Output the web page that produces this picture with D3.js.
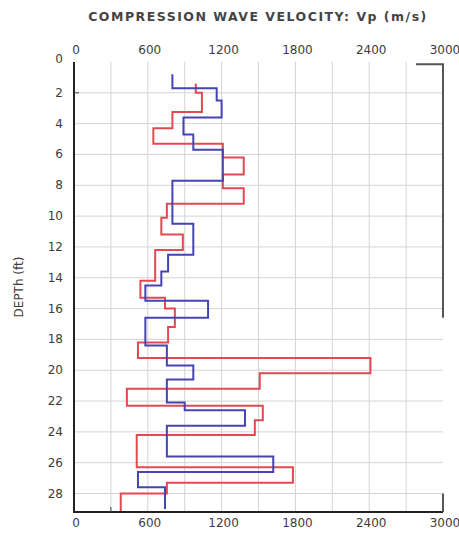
<!DOCTYPE html>
<html>
<head>
<meta charset="utf-8">
<script src="https://cdn.jsdelivr.net/npm/d3@7"></script>
<style>
  html, body { margin: 0; padding: 0; background: #fff; }
  svg { display: block; }
</style>
</head>
<body>
<svg id="chart" width="459" height="536"></svg>
<script>
// ---- data ----
const xTicks = [0, 600, 1200, 1800, 2400, 3000];
const yTicks = [0, 2, 4, 6, 8, 10, 12, 14, 16, 18, 20, 22, 24, 26, 28];

// Layer boundaries (depth, ft) and layer velocities (m/s)
const blueDepths = [0.8, 1.7, 2.5, 3.6, 4.7, 5.7, 7.7, 10.5, 12.5, 13.6, 14.5, 15.5, 16.6, 18.4, 19.7, 20.6, 22.1, 22.6, 23.6, 25.6, 26.6, 27.6, 29.0];
const blueVp     = [800, 1160, 1200, 890, 970, 1210, 800, 970, 765, 710, 580, 1090, 580, 755, 970, 755, 900, 1390, 755, 1620, 520, 740];

const redDepths = [1.4, 2.0, 3.25, 4.3, 5.3, 6.2, 7.3, 8.2, 9.2, 10.1, 11.2, 12.2, 14.2, 15.3, 16.0, 17.2, 18.2, 19.2, 20.2, 21.2, 22.3, 23.25, 24.2, 26.3, 27.3, 28.0, 29.2];
const redVp     = [990, 1040, 800, 645, 1210, 1380, 1210, 1380, 755, 710, 885, 660, 540, 740, 820, 765, 520, 2410, 1510, 430, 1535, 1470, 510, 1780, 755, 380];

// right-hand depth markers at Vp = 3000
const markerTop = [0.15, 16.6];
const markerBottom = [28.0, 29.2];

// ---- layout ----
const svg = d3.select("#chart");
const x = d3.scaleLinear().domain([0, 3000]).range([74, 443]);
const y = d3.scaleLinear().domain([0, 29.2]).range([62, 512]);

const textColor = "#3c3c3c";
const font = "DejaVu Sans, Verdana, sans-serif";

// grid
const vGrid = d3.range(300, 3000, 300);
svg.append("g").selectAll("line").data(vGrid).join("line")
  .attr("x1", d => x(d)).attr("x2", d => x(d))
  .attr("y1", y(0)).attr("y2", y(29.2))
  .attr("stroke", "#d4d4d4").attr("stroke-width", 1);
svg.append("g").selectAll("line").data(yTicks.filter(d => d > 0)).join("line")
  .attr("x1", x(0)).attr("x2", x(3000))
  .attr("y1", d => y(d)).attr("y2", d => y(d))
  .attr("stroke", "#d4d4d4").attr("stroke-width", 1);

// profile builder
function profile(depths, vp) {
  const pts = [];
  vp.forEach((v, i) => { pts.push([v, depths[i]]); pts.push([v, depths[i + 1]]); });
  return pts;
}
const line = d3.line().x(d => x(d[0])).y(d => y(d[1]));

svg.append("path").datum(profile(redDepths, redVp))
  .attr("d", line).attr("fill", "none")
  .attr("stroke", "#e24a52").attr("stroke-width", 2).attr("stroke-linejoin", "miter");
svg.append("path").datum(profile(blueDepths, blueVp))
  .attr("d", line).attr("fill", "none")
  .attr("stroke", "#4444b2").attr("stroke-width", 2).attr("stroke-linejoin", "miter");

// axes lines
svg.append("line").attr("x1", x(0)).attr("x2", x(0)).attr("y1", y(0)).attr("y2", y(29.2) + 1)
  .attr("stroke", "#222").attr("stroke-width", 2);
svg.append("line").attr("x1", x(0) - 1).attr("x2", x(3000)).attr("y1", y(29.2)).attr("y2", y(29.2))
  .attr("stroke", "#222").attr("stroke-width", 2);
// small ticks
svg.append("line").attr("x1", x(0)).attr("x2", x(0) + 5).attr("y1", y(2)).attr("y2", y(2))
  .attr("stroke", "#444").attr("stroke-width", 1);
svg.append("line").attr("x1", x(300)).attr("x2", x(300)).attr("y1", y(29.2)).attr("y2", y(29.2) - 5)
  .attr("stroke", "#444").attr("stroke-width", 1);

// right markers
svg.append("path")
  .attr("d", `M${x(2780)},${y(markerTop[0])}H${x(3000)}V${y(markerTop[1])}`)
  .attr("fill", "none").attr("stroke", "#555").attr("stroke-width", 2);
svg.append("line").attr("x1", x(3000)).attr("x2", x(3000))
  .attr("y1", y(markerBottom[0])).attr("y2", y(markerBottom[1]))
  .attr("stroke", "#555").attr("stroke-width", 2);

// tick labels
const xl = svg.append("g").attr("font-family", font).attr("font-size", 12)
  .attr("fill", textColor).attr("text-anchor", "middle");
xl.selectAll("text.top").data(xTicks).join("text").attr("class", "top")
  .attr("x", d => x(d) + 2).attr("y", 54).text(d => d);
xl.selectAll("text.bot").data(xTicks).join("text").attr("class", "bot")
  .attr("x", d => x(d) + 2).attr("y", 527).text(d => d);

svg.append("g").attr("font-family", font).attr("font-size", 12)
  .attr("fill", textColor).attr("text-anchor", "end")
  .selectAll("text").data(yTicks).join("text")
  .attr("x", 63).attr("y", d => y(d) + 4 + (d === 0 ? -3 : 0)).text(d => d);

// title
svg.append("text").attr("x", 258).attr("y", 21).attr("text-anchor", "middle")
  .attr("font-family", font).attr("font-weight", "bold").attr("font-size", 12.5)
  .attr("letter-spacing", 1.5)
  .attr("fill", "#444").text("COMPRESSION WAVE VELOCITY: Vp (m/s)");

// y label
svg.append("text").attr("transform", "translate(23,287) rotate(-90)")
  .attr("text-anchor", "middle").attr("font-family", font).attr("font-size", 12)
  .attr("fill", textColor).text("DEPTh (ft)");
</script>
</body>
</html>
